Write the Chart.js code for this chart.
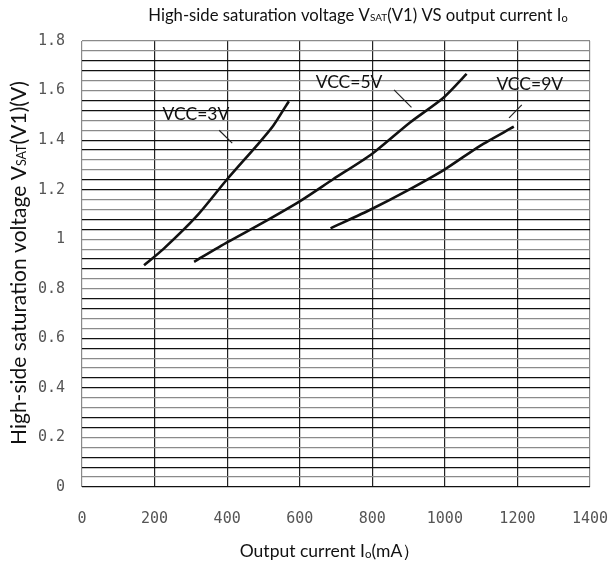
<!DOCTYPE html>
<html>
<head>
<meta charset="utf-8">
<script src="https://cdn.jsdelivr.net/npm/chart.js@4.4.1/dist/chart.umd.min.js"></script>
<style>
  html, body { margin: 0; padding: 0; background: #fff; }
  #wrap { width: 613px; height: 569px; }
</style>
</head>
<body>
<div id="wrap"><canvas id="satChart" width="613" height="569"></canvas></div>
<script>
// values (output current in mA, voltage in V)
const vcc3Current = [171, 224, 316, 400, 481, 527, 570];
const vcc3Voltage = [0.895, 0.96, 1.093, 1.242, 1.377, 1.458, 1.557];

const vcc5Current = [309, 401, 500, 601, 692, 798, 904, 997, 1060];
const vcc5Voltage = [0.909, 0.988, 1.068, 1.154, 1.242, 1.343, 1.471, 1.572, 1.667];

const vcc9Current = [685, 800, 895, 1000, 1097, 1190];
const vcc9Voltage = [1.044, 1.123, 1.195, 1.282, 1.377, 1.454];

const xTickLabels = ["0", "200", "400", "600", "800", "1000", "1200", "1400"];
const yTickLabels = ["0", "0.2", "0.4", "0.6", "0.8", "1", "1.2", "1.4", "1.6", "1.8"];

// curve labels and their leader lines, in data units
const curveNames = ["VCC=3V", "VCC=5V", "VCC=9V"];
const namePos = [[314, 1.505], [736, 1.634], [1234, 1.626]];
const leaderFrom = [[378, 1.44], [860, 1.603], [1212, 1.542]];
const leaderTo = [[414, 1.388], [908, 1.532], [1177, 1.49]];

const toPoints = (xs, ys) => xs.map((x, i) => ({ x: x, y: ys[i] }));

const curveStyle = {
  borderColor: "#111",
  borderWidth: 2.6,
  pointRadius: 0,
  tension: 0.25,
  fill: false,
};

const datasets = [
  { label: curveNames[0], data: toPoints(vcc3Current, vcc3Voltage), ...curveStyle },
  { label: curveNames[1], data: toPoints(vcc5Current, vcc5Voltage), ...curveStyle },
  { label: curveNames[2], data: toPoints(vcc9Current, vcc9Voltage), ...curveStyle },
];

// thin leader lines pointing from each label to its curve
leaderFrom.forEach((p, i) => {
  datasets.push({
    label: "leader" + i,
    data: [{ x: p[0], y: p[1] }, { x: leaderTo[i][0], y: leaderTo[i][1] }],
    borderColor: "#222",
    borderWidth: 1.2,
    pointRadius: 0,
    tension: 0,
    fill: false,
  });
});

const textFont = "Lato, 'Open Sans', sans-serif";

// draw a run of text pieces (some small, like VSAT or Io) centred on x
function drawRich(ctx, parts, x, y) {
  let total = 0;
  parts.forEach((p) => {
    ctx.font = p.size + "px " + textFont;
    p.w = ctx.measureText(p.text).width;
    total += p.w;
  });
  let cx = x - total / 2;
  ctx.textAlign = "left";
  ctx.textBaseline = "alphabetic";
  parts.forEach((p) => {
    ctx.font = p.size + "px " + textFont;
    ctx.fillText(p.text, cx, y + (p.dy || 0));
    cx += p.w;
  });
}

const textPlugin = {
  id: "richText",
  afterDraw(chart) {
    const ctx = chart.ctx;
    const xs = chart.scales.x;
    const ys = chart.scales.y;
    ctx.save();
    ctx.fillStyle = "#111";

    // title
    drawRich(ctx, [
      { text: "High-side saturation voltage V", size: 16.7 },
      { text: "SAT", size: 10 },
      { text: "(V1) VS output current I", size: 16.7 },
      { text: "o", size: 11, dy: 1 },
    ], 358, 21);

    // x axis title
    drawRich(ctx, [
      { text: "Output current I", size: 17.5 },
      { text: "o", size: 11.5, dy: 1 },
      { text: "(mA\uFF09", size: 17.5 },
    ], 330, 557);

    // y axis title, rotated
    ctx.save();
    ctx.translate(26, 263);
    ctx.rotate(-Math.PI / 2);
    drawRich(ctx, [
      { text: "High-side saturation voltage V", size: 21 },
      { text: "SAT", size: 12.5 },
      { text: "(V1)(V)", size: 21 },
    ], 0, 0);
    ctx.restore();

    // curve names
    ctx.font = "17.5px " + textFont;
    ctx.textAlign = "center";
    ctx.textBaseline = "middle";
    curveNames.forEach((name, i) => {
      ctx.fillText(name, xs.getPixelForValue(namePos[i][0]), ys.getPixelForValue(namePos[i][1]));
    });
    ctx.restore();
  },
};

new Chart(document.getElementById("satChart"), {
  type: "line",
  data: { datasets: datasets },
  plugins: [textPlugin],
  options: {
    responsive: false,
    animation: false,
    layout: { padding: { left: 0, right: 0, top: 41, bottom: 0 } },
    plugins: {
      legend: { display: false },
      tooltip: { enabled: false },
    },
    scales: {
      x: {
        type: "linear",
        min: 0,
        max: 1400,
        afterFit: (scale) => {
          scale.height = 82;
          scale.paddingLeft = 0;
          scale.paddingRight = 23;
        },
        border: { display: false },
        grid: {
          drawTicks: false,
          lineWidth: 1.2,
          color: (c) => (c.tick.value === 0 || c.tick.value === 1400 ? "#8a8a8a" : "#222"),
        },
        ticks: {
          stepSize: 200,
          padding: 23,
          color: "#555",
          font: { family: "'DejaVu Sans Mono', monospace", size: 15 },
          callback: (v) => xTickLabels[Math.round(v / 200)],
        },
      },
      y: {
        type: "linear",
        min: 0,
        max: 1.8,
        afterFit: (scale) => { scale.width = 82; },
        afterBuildTicks: (scale) => {
          const t = [];
          for (let i = 0; i <= 45; i++) t.push({ value: +(i * 0.04).toFixed(2) });
          scale.ticks = t;
        },
        border: { display: false },
        grid: {
          drawTicks: false,
          lineWidth: 1.2,
          color: (c) => {
            const i = Math.round(c.tick.value / 0.04);
            if (i === 0) return "#111";
            return (45 - i) % 4 < 2 ? "#8a8a8a" : "#111";
          },
        },
        ticks: {
          autoSkip: false,
          padding: 17,
          color: "#555",
          font: { family: "'DejaVu Sans Mono', monospace", size: 15 },
          callback: (v) => {
            const k = Math.round(v / 0.04);
            return k % 5 === 0 ? yTickLabels[k / 5] : "";
          },
        },
      },
    },
  },
});
</script>
</body>
</html>
